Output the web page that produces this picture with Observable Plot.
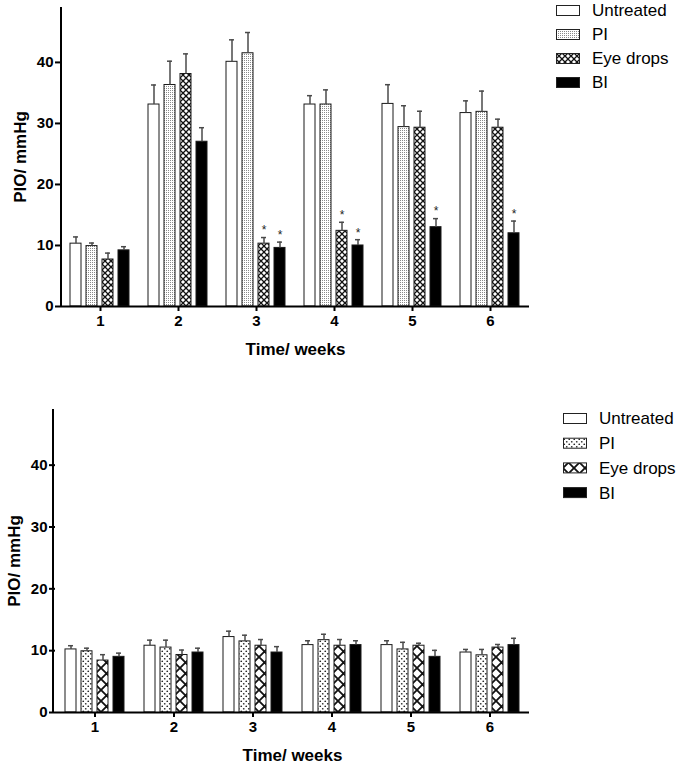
<!DOCTYPE html>
<html><head><meta charset="utf-8">
<script src="https://cdn.jsdelivr.net/npm/d3@7"></script>
<script src="https://cdn.jsdelivr.net/npm/@observablehq/plot@0.6"></script>
<style>
body{margin:0;background:#fff;font-family:"Liberation Sans",Arial,sans-serif;}
.panel{position:relative;width:684px;}
.panel > svg.legend{position:absolute;overflow:visible;}
[aria-label="y-axis label"], [aria-label="fx-axis label"]{font-size:17px;}
</style></head><body>
<svg width="0" height="0" style="position:absolute">
<defs>
 <pattern id="piFine" width="2" height="2" patternUnits="userSpaceOnUse"><rect width="2" height="2" fill="#fff"/><rect width="1" height="1" fill="#8a8a8a"/></pattern>
 <pattern id="eyeFine" width="6" height="6" patternUnits="userSpaceOnUse"><rect width="6" height="6" fill="#fff"/><path d="M0,0L6,6M0,6L6,0" stroke="#111" stroke-width="1.3"/></pattern>
 <pattern id="piCoarse" width="5" height="5" patternUnits="userSpaceOnUse"><rect width="5" height="5" fill="#fff"/><circle cx="1.25" cy="1.25" r="0.85" fill="#222"/><circle cx="3.75" cy="3.75" r="0.85" fill="#222"/></pattern>
 <pattern id="eyeCoarse" width="11" height="11" patternUnits="userSpaceOnUse"><rect width="11" height="11" fill="#fff"/><path d="M0,0L11,11M0,11L11,0" stroke="#111" stroke-width="1.8"/></pattern>
</defs>
</svg>
<div id="top" class="panel"></div>
<div id="bottom" class="panel"></div>
<script>
const weeks = [1, 2, 3, 4, 5, 6];
const groups = ["Untreated", "PI", "Eye drops", "BI"];
const yTicks = [0, 10, 20, 30, 40];
const yMax = 49;

// Top panel: rows = weeks, columns = groups
const topMean = [
  [10.3, 9.9, 7.7, 9.2],
  [33.1, 36.3, 38.1, 27.0],
  [40.1, 41.5, 10.3, 9.6],
  [33.1, 33.1, 12.4, 10.0],
  [33.2, 29.4, 29.3, 13.0],
  [31.7, 31.9, 29.3, 12.0]
];
const topSD = [
  [1.1, 0.5, 1.05, 0.6],
  [3.2, 3.9, 3.3, 2.3],
  [3.6, 3.4, 1.0, 0.95],
  [1.45, 2.4, 1.4, 0.95],
  [3.15, 3.5, 2.7, 1.4],
  [2.0, 3.4, 1.4, 2.0]
];
const topSig = [
  [0, 0, 0, 0],
  [0, 0, 0, 0],
  [0, 0, 1, 1],
  [0, 0, 1, 1],
  [0, 0, 0, 1],
  [0, 0, 0, 1]
];

// Bottom panel
const bottomMean = [
  [10.2, 9.9, 8.4, 9.0],
  [10.8, 10.5, 9.3, 9.7],
  [12.2, 11.5, 10.8, 9.7],
  [10.9, 11.7, 10.8, 10.9],
  [10.9, 10.2, 10.8, 9.0],
  [9.7, 9.25, 10.5, 10.9]
];
const bottomSD = [
  [0.6, 0.5, 0.95, 0.6],
  [0.9, 1.2, 0.8, 0.7],
  [0.95, 1.0, 1.0, 0.95],
  [0.7, 0.95, 1.0, 0.7],
  [0.7, 1.15, 0.4, 1.05],
  [0.5, 0.95, 0.5, 1.1]
];
const bottomSig = weeks.map(() => [0, 0, 0, 0]);

const topFills = {"Untreated": "#ffffff", "PI": "url(#piFine)", "Eye drops": "url(#eyeFine)", "BI": "#000000"};
const bottomFills = {"Untreated": "#ffffff", "PI": "url(#piCoarse)", "Eye drops": "url(#eyeCoarse)", "BI": "#000000"};

function rows(mean, sd, sig) {
  const out = [];
  weeks.forEach((w, i) => groups.forEach((g, j) => out.push({week: w, group: g, mean: mean[i][j], sd: sd[i][j], sig: !!sig[i][j]})));
  return out;
}

function chart(el, data, fills, o) {
  const plot = Plot.plot({
    width: 684, height: o.height,
    marginTop: o.mt, marginBottom: o.mb, marginLeft: o.ml, marginRight: o.mr,
    style: {fontFamily: "'Liberation Sans', Arial, sans-serif", background: "transparent", color: "#000"},
    fx: {domain: weeks, padding: 0},
    x: {domain: groups, paddingInner: 0.31, paddingOuter: 0.48, axis: null},
    y: {domain: [0, yMax]},
    color: {type: "identity"},
    marks: [
      Plot.barY(data, {fx: "week", x: "group", y: "mean", fill: d => fills[d.group], stroke: "#1a1a1a", strokeWidth: 1}),
      Plot.ruleX(data, {fx: "week", x: "group", y1: "mean", y2: d => d.mean + d.sd, stroke: "#4a4a4a", strokeWidth: 1.5}),
      Plot.tickY(data, {fx: "week", x: "group", y: d => d.mean + d.sd, stroke: "#4a4a4a", strokeWidth: 1.5, insetLeft: 3, insetRight: 3}),
      Plot.text(data.filter(d => d.sig), {fx: "week", x: "group", y: d => d.mean + d.sd, text: () => "*", dy: -7, lineAnchor: "middle", fontSize: 12, fill: "#222"}),
      Plot.ruleY([0], {stroke: "#000", strokeWidth: 2}),
      Plot.axisY({ticks: yTicks, tickSize: 6, tickPadding: 2, fontSize: 15, fontWeight: "bold", strokeWidth: 2, label: "PIO/ mmHg", labelArrow: "none", labelAnchor: "center", labelOffset: 48}),
      Plot.axisFx({anchor: "bottom", tickSize: 5, tickPadding: 4, fontSize: 15, fontWeight: "bold", strokeWidth: 2, label: "Time/ weeks", labelArrow: "none", labelAnchor: "center", labelOffset: o.xlo})
    ]
  });
  el.appendChild(plot);
  // vertical y-axis line, placed with the plot's own y scale
  const ys = plot.scale("y");
  d3.select(plot).append("line")
    .attr("x1", o.ml).attr("x2", o.ml)
    .attr("y1", ys.apply(yMax)).attr("y2", ys.apply(0) + 1)
    .attr("stroke", "#000").attr("stroke-width", 2);
  const lg = d3.select(el).append("svg").attr("class", "legend")
    .style("left", o.lx + "px").style("top", o.ly + "px").attr("width", 125).attr("height", 100);
  groups.forEach((g, i) => {
    const y = i * o.ls;
    lg.append("rect").attr("x", 0.5).attr("y", y + 0.5).attr("width", 23).attr("height", 10)
      .attr("fill", fills[g]).attr("stroke", "#222").attr("stroke-width", 1);
    lg.append("text").attr("x", 36).attr("y", y + 5.5).attr("dy", "0.35em")
      .attr("font-size", 17).attr("font-family", "'Liberation Sans', Arial, sans-serif").text(g);
  });
}

chart(document.getElementById("top"), rows(topMean, topSD, topSig), topFills,
  {height: 360, mt: 7, mb: 54, ml: 61, mr: 155, xlo: 48, lx: 556, ly: 5, ls: 24});
chart(document.getElementById("bottom"), rows(bottomMean, bottomSD, bottomSig), bottomFills,
  {height: 404, mt: 49, mb: 52, ml: 53, mr: 153, xlo: 48, lx: 563, ly: 53, ls: 24.7});
</script>
</body></html>
